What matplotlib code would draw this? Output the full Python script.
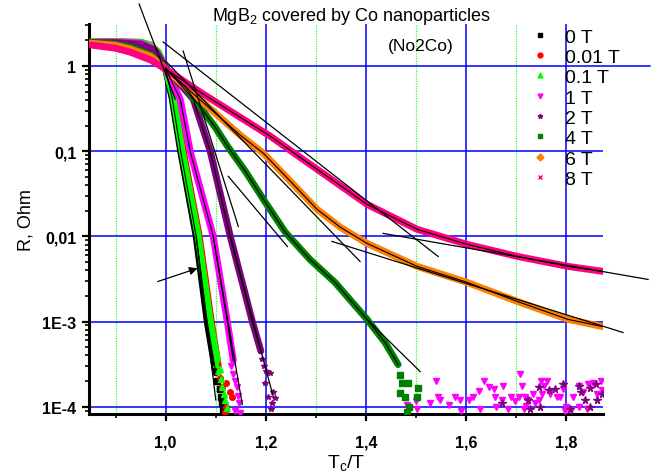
import numpy as np
import matplotlib
matplotlib.use('Agg')
import matplotlib.pyplot as plt
from matplotlib.ticker import FixedLocator, FixedFormatter, LogLocator, NullFormatter

plt.rcParams['font.family'] = ['Liberation Sans', 'DejaVu Sans']

# ---- data (x = Tc/T, y = R in Ohm) ----
labels = ['0 T', '0.01 T', '0.1 T', '1 T', '2 T', '4 T', '6 T', '8 T']
colors = ['#000000', '#ff0000', '#00ff00', '#ff00ff', '#800080', '#008000', '#ff8000', '#ff0080']
markers = ['s', 'o', '^', 'v', '*', 's', 'D', 'x']

x_0T = [0.85, 0.90, 0.95, 0.97, 0.985, 1.0, 1.013, 1.030, 1.061, 1.083, 1.100]
r_0T = [1.90, 1.91, 1.88, 1.72, 1.40, 0.92, 0.42, 0.10, 0.010, 1.0e-3, 2.5e-4]
x_001T = [0.85, 0.90, 0.95, 0.97, 0.985, 1.0, 1.016, 1.035, 1.067, 1.091, 1.105]
r_001T = [1.92, 1.93, 1.90, 1.76, 1.46, 0.95, 0.45, 0.10, 0.010, 1.0e-3, 3.0e-4]
x_01T = [0.85, 0.90, 0.95, 0.97, 0.985, 1.0, 1.015, 1.033, 1.065, 1.089, 1.103]
r_01T = [1.92, 1.93, 1.90, 1.75, 1.45, 0.94, 0.44, 0.10, 0.010, 1.0e-3, 3.5e-4]
x_1T = [0.85, 0.90, 0.95, 0.975, 1.0, 1.029, 1.049, 1.095, 1.123, 1.135]
r_1T = [1.90, 1.91, 1.86, 1.60, 0.93, 0.41, 0.10, 0.010, 1.0e-3, 3.5e-4]
x_2T = [0.85, 0.90, 0.95, 0.98, 1.0, 1.055, 1.089, 1.129, 1.173, 1.190]
r_2T = [1.88, 1.88, 1.80, 1.50, 0.95, 0.41, 0.10, 0.010, 1.0e-3, 4.5e-4]
x_4T = [0.85, 0.90, 0.93, 0.97, 1.0, 1.039, 1.069, 1.099, 1.125, 1.159, 1.199, 1.239, 1.288,
        1.338, 1.402, 1.438, 1.464]
r_4T = [1.88, 1.80, 1.67, 1.35, 0.93, 0.566, 0.330, 0.191, 0.111, 0.0582, 0.0251, 0.01114,
        5.36e-3, 2.88e-3, 1.06e-3, 5.66e-4, 3.12e-4]
x_6T = [0.85, 0.90, 0.93, 0.97, 1.0, 1.049, 1.099, 1.149, 1.195, 1.249, 1.302, 1.349, 1.402,
        1.502, 1.602, 1.702, 1.803, 1.873]
r_6T = [1.85, 1.75, 1.58, 1.30, 0.92, 0.508, 0.280, 0.154, 0.0947, 0.0444, 0.0208, 0.01276,
        8.27e-3, 4.44e-3, 2.88e-3, 1.72e-3, 1.06e-3, 8.7e-4]
x_8T = [0.85, 0.90, 0.929, 0.97, 1.0, 1.069, 1.129, 1.209, 1.268, 1.328, 1.402, 1.502, 1.602,
        1.702, 1.803, 1.873]
r_8T = [1.77, 1.62, 1.46, 1.18, 0.92, 0.494, 0.296, 0.150, 0.0850, 0.0481, 0.0238, 0.0121,
        8.05e-3, 5.82e-3, 4.44e-3, 3.88e-3]

# scattered noisy points close to the resolution limit
nx_0T = [1.103, 1.108, 1.110, 1.112, 1.114, 1.116]
nr_0T = [2.0e-4, 1.6e-4, 1.3e-4, 1.1e-4, 0.95e-4, 0.88e-4]
nx_001T = [1.108, 1.113, 1.120, 1.128, 1.133, 1.121, 1.119]
nr_001T = [2.2e-4, 1.7e-4, 1.9e-4, 1.5e-4, 1.3e-4, 1.0e-4, 0.86e-4]
nx_01T = [1.100, 1.104, 1.108, 1.110, 1.113, 1.116, 1.118, 1.122]
nr_01T = [3.2e-4, 2.6e-4, 2.8e-4, 2.1e-4, 1.7e-4, 1.4e-4, 1.2e-4, 0.97e-4]
nx_1T = [1.130, 1.135, 1.138, 1.142, 1.144, 1.146, 1.139, 1.148]
nr_1T = [3.0e-4, 2.4e-4, 2.0e-4, 1.7e-4, 1.35e-4, 1.1e-4, 0.9e-4, 0.85e-4]
nx_2T = [1.192, 1.196, 1.200, 1.208, 1.198, 1.214, 1.204, 1.212, 1.210, 1.218]
nr_2T = [3.6e-4, 3.0e-4, 2.6e-4, 2.5e-4, 1.9e-4, 1.5e-4, 1.3e-4, 1.1e-4, 0.95e-4, 1.25e-4]
nx_4T = [1.468, 1.472, 1.468, 1.484, 1.504, 1.478, 1.482, 1.502, 1.486]
nr_4T = [2.38e-4, 1.92e-4, 1.46e-4, 1.92e-4, 1.67e-4, 1.31e-4, 0.87e-4, 1.31e-4, 1.0e-4]
nx_1Tb = [1.482, 1.500, 1.502, 1.528, 1.540, 1.544, 1.548, 1.566, 1.578, 1.588, 1.590, 1.606,
          1.614, 1.626, 1.627, 1.636, 1.646, 1.656, 1.657, 1.660, 1.674, 1.672, 1.684, 1.690,
          1.698, 1.708, 1.712, 1.706, 1.718, 1.724, 1.720, 1.716, 1.733, 1.738, 1.749, 1.755,
          1.761, 1.752, 1.745, 1.768, 1.781, 1.788, 1.793, 1.800, 1.813, 1.825, 1.833, 1.826,
          1.841, 1.843, 1.853, 1.861, 1.871, 1.869, 1.810, 1.798]
nr_1Tb = [1.06e-4, 1.15e-4, 0.95e-4, 1.10e-4, 2.0e-4, 1.31e-4, 1.2e-4, 1.06e-4, 1.31e-4, 1.21e-4,
          0.9e-4, 1.21e-4, 1.31e-4, 1.54e-4, 0.95e-4, 2.0e-4, 1.7e-4, 1.6e-4, 1.31e-4, 1.0e-4,
          1.77e-4, 1.21e-4, 0.95e-4, 1.31e-4, 1.15e-4, 2.44e-4, 1.77e-4, 1.31e-4, 1.31e-4, 1.2e-4,
          1.03e-4, 0.95e-4, 1.42e-4, 1.1e-4, 2.0e-4, 1.77e-4, 2.0e-4, 1.42e-4, 1.21e-4, 1.42e-4,
          1.31e-4, 1.31e-4, 1.6e-4, 1.0e-4, 1.31e-4, 1.77e-4, 1.5e-4, 1.0e-4, 0.95e-4, 1.87e-4,
          1.9e-4, 1.4e-4, 1.55e-4, 2.0e-4, 0.92e-4, 0.9e-4]
nx_2Tb = [1.672, 1.723, 1.727, 1.745, 1.748, 1.765, 1.778, 1.793, 1.808, 1.825, 1.830, 1.838,
          1.848, 1.860, 1.862, 1.848, 1.871]
nr_2Tb = [1.1e-4, 1.21e-4, 0.95e-4, 1.7e-4, 1.0e-4, 1.55e-4, 1.63e-4, 1.87e-4, 0.95e-4, 1.75e-4,
          1.5e-4, 1.2e-4, 1.65e-4, 1.87e-4, 1.2e-4, 1.0e-4, 1.42e-4]

# straight fit lines drawn over the data (end points)
fit_lines = [
    ([0.995, 1.544], [1.92, 5.8e-3]),      # 8 T, first slope
    ([1.434, 1.963], [0.01084, 3.12e-3]),  # 8 T, second slope
    ([1.000, 1.388], [1.145, 5.08e-3]),    # 6 T, first slope
    ([1.332, 1.913], [8.73e-3, 7.43e-4]),  # 6 T, second slope
    ([1.125, 1.243], [0.0508, 7.6e-3]),    # 4 T, tangent
    ([1.402, 1.508], [1.06e-3, 2.58e-4]),  # 4 T, tail
    ([1.035, 1.145], [1.5, 0.0131]),       # 2 T, tangent
    ([1.129, 1.215], [0.010, 1.3e-4]),     # 2 T, tail
    ([1.095, 1.153], [0.010, 1.06e-4]),    # 1 T, tail
    ([1.061, 1.100], [0.010, 1.2e-4]),     # 0 T, tail
    ([0.947, 1.019], [5.36, 0.41]),        # steep line near Tc
]
arrow_from = (0.979, 2.88e-3)
arrow_to = (1.069, 4.32e-3)

series = [(x_0T, r_0T), (x_001T, r_001T), (x_01T, r_01T), (x_1T, r_1T),
          (x_2T, r_2T), (x_4T, r_4T), (x_6T, r_6T), (x_8T, r_8T)]
noise = {0: (nx_0T, nr_0T), 1: (nx_001T, nr_001T), 2: (nx_01T, nr_01T), 3: (nx_1T, nr_1T),
         4: (nx_2T, nr_2T), 5: (nx_4T, nr_4T)}
with_fit = [0, 3, 4, 5, 6, 7]

fig = plt.figure(figsize=(6.52, 4.77), dpi=100)
ax = fig.add_axes([89/652, 1-415/477, (603-89)/652, (415-25)/477])
ax.set_yscale('log')
ax.set_xlim(0.847, 1.873)
ax.set_ylim(8.2e-5, 3.12)

# grid
for gx in [1.0, 1.2, 1.4, 1.6, 1.8]:
    ax.axvline(gx, color='#0000ff', lw=1.1, zorder=1)
for gx in [0.9, 1.1, 1.3, 1.5, 1.7]:
    ax.axvline(gx, color='#33ff33', lw=0.9, ls=(0, (1, 1)), zorder=1)
for gy in [1e-4, 1e-3, 1e-2, 1e-1]:
    ax.axhline(gy, color='#0000ff', lw=1.1, zorder=1)
ax.plot([0, (650-89)/514], [1, 1], transform=ax.get_yaxis_transform(), color='#0000ff',
        lw=1.1, clip_on=False, zorder=1)

handles = []
for i, (xs, rs) in enumerate(series):
    ax.plot(xs, rs, color=colors[i], lw=5, solid_capstyle='round', zorder=2+i)
    if i in noise:
        ax.plot(noise[i][0], noise[i][1], ls='none', marker=markers[i], ms=4,
                color=colors[i], mec=colors[i], zorder=2+i)
    h, = ax.plot([], [], ls='none', marker=markers[i], ms=3.5, color=colors[i], mec=colors[i])
    handles.append(h)
ax.plot(nx_1Tb, nr_1Tb, ls='none', marker='v', ms=4.5, color=colors[3], zorder=4)
ax.plot(nx_2Tb, nr_2Tb, ls='none', marker='*', ms=5.5, color=colors[4], zorder=5)

# fitted curves follow the bands
for i in with_fit:
    xs, rs = series[i]
    sel = [k for k in range(len(xs)) if xs[k] >= 1.0]
    ax.plot([xs[k] for k in sel], [rs[k] for k in sel], color='black', lw=0.8, zorder=11)

for xs, rs in fit_lines:
    ax.plot(xs, rs, color='black', lw=0.9, clip_on=False, zorder=12)
ax.annotate('', xy=arrow_to, xytext=arrow_from,
            arrowprops=dict(arrowstyle='-|>', color='black', lw=0.9, mutation_scale=12), zorder=13)

# axes look
for s in ['top', 'right']:
    ax.spines[s].set_visible(False)
for s in ['left', 'bottom']:
    ax.spines[s].set_linewidth(2.2)
ax.xaxis.set_major_locator(FixedLocator([1.0, 1.2, 1.4, 1.6, 1.8]))
ax.xaxis.set_major_formatter(FixedFormatter(['1,0', '1,2', '1,4', '1,6', '1,8']))
ax.xaxis.set_minor_locator(FixedLocator([0.9, 1.1, 1.3, 1.5, 1.7]))
ax.yaxis.set_major_locator(FixedLocator([1e-4, 1e-3, 1e-2, 1e-1, 1]))
ax.yaxis.set_major_formatter(FixedFormatter(['1E-4', '1E-3', '0,01', '0,1', '1']))
ax.yaxis.set_minor_locator(LogLocator(base=10, subs=np.arange(2, 10)))
ax.yaxis.set_minor_formatter(NullFormatter())
ax.tick_params(which='major', length=5, width=1.6, labelsize=11.5, pad=4)
ax.tick_params(which='minor', length=3, width=1.2)
for t in ax.get_xticklabels() + ax.get_yticklabels():
    t.set_fontweight('bold')
ax.tick_params(axis='x', pad=10)

ax.set_ylabel('R, Ohm', fontsize=13, labelpad=6)
xl = ax.set_xlabel('T$_\\mathregular{c}$/T', fontsize=14)
xl.set_va('center')
ax.xaxis.set_label_coords(0.5, -0.125)

fig.text(0.54, 0.965, 'MgB$_\\mathregular{2}$ covered by Co nanoparticles', fontsize=13,
         ha='center', va='center')
fig.text(0.645, 0.902, '(No2Co)', fontsize=12.5, ha='center', va='center')

fig.legend(handles, labels, loc='upper left', bbox_to_anchor=(530/652, 1-29/477),
           frameon=False, fontsize=14, handlelength=1.0, handletextpad=0.8,
           labelspacing=0.14, borderpad=0, borderaxespad=0)

fig.savefig('out.png', dpi=100)
